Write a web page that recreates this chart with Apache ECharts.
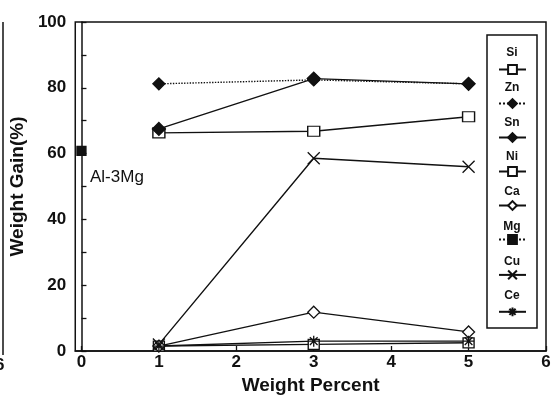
<!DOCTYPE html>
<html>
<head>
    <meta charset="utf-8">
    <title>Weight Gain</title>
    <script src="https://cdn.jsdelivr.net/npm/echarts@6/dist/echarts.min.js"></script>
    <style>
        html, body { margin: 0; padding: 0; background: #fff; }
    </style>
</head>
<body>
<div id="main" style="width: 554px;height:405px;"></div>
<script type="text/javascript">
    // 数据
    var xVals = [1, 3, 5];
    var si = [66.3, 66.8, 71.2];
    var zn = [81.2, 82.4, 81.2];
    var sn = [67.5, 82.8, 81.2];
    var ni = [1.5, 2.0, 2.5];
    var ca = [1.5, 11.8, 5.8];
    var mgX = [0];
    var mg = [60.8];
    var cu = [2.0, 58.6, 56.0];
    var ce = [1.5, 3.0, 3.0];
    var xTicks = [0, 1, 2, 3, 4, 5, 6];
    var legendNames = ['Si', 'Zn', 'Sn', 'Ni', 'Ca', 'Mg', 'Cu', 'Ce'];

    var font = '"Liberation Sans", Arial, sans-serif';
    var black = '#111';

    function pairs(xs, ys) {
        var out = [];
        for (var i = 0; i < ys.length; i++) {
            out.push([xs[i], ys[i]]);
        }
        return out;
    }

    var crossPath = 'path://M0,0L10,10M10,0L0,10';
    var starPath = 'path://M5,0L5,10M0,5L10,5M1.5,1.5L8.5,8.5M8.5,1.5L1.5,8.5';

    function lineSeries(name, data, symbol, size, fill, dash) {
        return {
            name: name,
            type: 'line',
            data: data,
            symbol: symbol,
            symbolSize: size,
            lineStyle: {color: black, width: 1.4, type: dash || 'solid'},
            itemStyle: {color: fill, borderColor: black, borderWidth: 1.3},
            z: 3
        };
    }

    // 图例文字
    var legendGraphics = [{
        type: 'rect',
        shape: {x: 487, y: 35, width: 50, height: 293},
        style: {fill: '#fff', stroke: black, lineWidth: 1.5},
        z: 10
    }];
    for (var i = 0; i < legendNames.length; i++) {
        legendGraphics.push({
            type: 'text',
            x: 512,
            y: 53 + i * 34.7,
            style: {
                text: legendNames[i],
                font: 'bold 12px ' + font,
                fill: black,
                align: 'center',
                verticalAlign: 'middle'
            },
            z: 12
        });
    }
    legendGraphics.push({
        type: 'text',
        x: 90,
        y: 177,
        style: {text: 'Al-3Mg', font: '17px ' + font, fill: black, verticalAlign: 'middle'},
        z: 5
    });
    // 左边残留的坐标轴
    legendGraphics.push({
        type: 'line',
        shape: {x1: 3, y1: 22, x2: 3, y2: 355},
        style: {stroke: black, lineWidth: 1.5}
    });
    legendGraphics.push({
        type: 'text',
        x: -5,
        y: 365,
        style: {text: '6', font: 'bold 17px ' + font, fill: black, verticalAlign: 'middle'}
    });

    var myChart = echarts.init(document.getElementById('main'));
    var option = {
        animation: false,
        backgroundColor: '#fff',
        grid: {
            left: 73, right: 8, top: 22, bottom: 54,
            show: true, borderColor: black, borderWidth: 1.5
        },
        legend: {
            data: legendNames,
            orient: 'vertical',
            left: 498,
            top: 64,
            padding: 0,
            itemWidth: 27,
            itemHeight: 11,
            itemGap: 23.1,
            formatter: function () { return ''; },
            textStyle: {fontSize: 1},
            selectedMode: false,
            z: 11
        },
        xAxis: {
            type: 'value',
            min: -0.08,
            max: 6,
            name: 'Weight Percent',
            nameLocation: 'middle',
            nameGap: 20,
            nameTextStyle: {fontFamily: font, fontWeight: 'bold', fontSize: 19, color: black},
            axisLine: {lineStyle: {color: black, width: 1.5}},
            axisTick: {inside: true, length: 5, customValues: xTicks, lineStyle: {color: black, width: 1.3}},
            axisLabel: {
                customValues: xTicks,
                margin: 3,
                fontFamily: font, fontWeight: 'bold', fontSize: 17, color: black
            },
            splitLine: {show: false}
        },
        yAxis: {
            type: 'value',
            min: 0,
            max: 100,
            interval: 20,
            name: 'Weight Gain(%)',
            nameLocation: 'middle',
            nameGap: 37,
            nameTextStyle: {fontFamily: font, fontWeight: 'bold', fontSize: 19, color: black},
            axisLine: {lineStyle: {color: black, width: 1.5}},
            axisTick: {inside: true, length: 5, lineStyle: {color: black, width: 1.3}},
            minorTick: {show: true, splitNumber: 2, length: 5, lineStyle: {color: black, width: 1.3}},
            axisLabel: {margin: 9, fontFamily: font, fontWeight: 'bold', fontSize: 17, color: black},
            splitLine: {show: false}
        },
        graphic: legendGraphics,
        series: [
            lineSeries('Si', pairs(xVals, si), 'rect', [12, 10], '#fff'),
            lineSeries('Zn', pairs(xVals, zn), 'diamond', 12, black, 'dotted'),
            lineSeries('Sn', pairs(xVals, sn), 'diamond', 13, black),
            lineSeries('Ni', pairs(xVals, ni), 'rect', [11, 10], '#fff'),
            lineSeries('Ca', pairs(xVals, ca), 'diamond', 12, '#fff'),
            lineSeries('Mg', pairs(mgX, mg), 'rect', 9, black, 'dotted'),
            lineSeries('Cu', pairs(xVals, cu), crossPath, 12, 'none'),
            lineSeries('Ce', pairs(xVals, ce), starPath, 11, 'none')
        ]
    };
    myChart.setOption(option);
</script>
</body>
</html>
